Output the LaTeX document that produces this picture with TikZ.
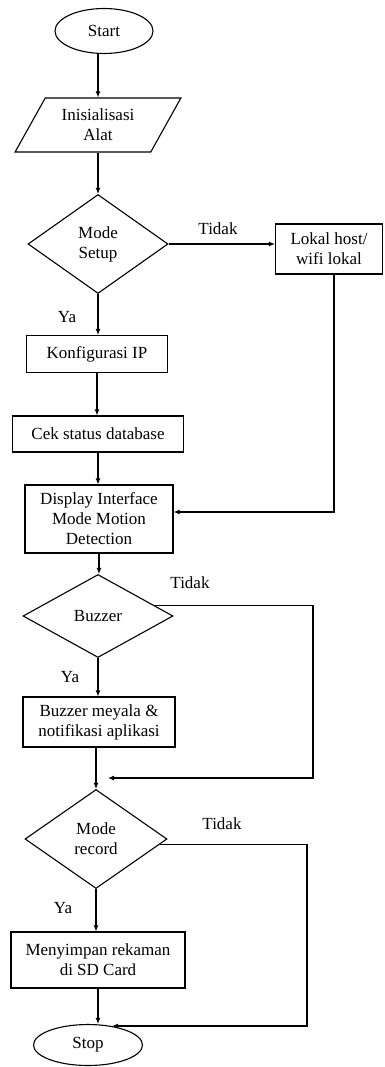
\documentclass[tikz,border=0pt]{standalone}
\usepackage{fontspec}
\setmainfont{Liberation Serif}
\usetikzlibrary{shapes.geometric,arrows.meta}
\begin{document}
\begin{tikzpicture}[x=1pt,y=-1pt,
  every node/.style={font=\fontsize{17}{20}\selectfont, align=center, inner sep=0pt},
  box/.style={draw, line width=1.1pt, rectangle},
  term/.style={draw, line width=1.1pt, ellipse},
  dec/.style={draw, line width=1.1pt, diamond, aspect=1.5},
  para/.style={draw, line width=1.1pt, trapezium, trapezium left angle=57, trapezium right angle=123, trapezium stretches=true},
  arr/.style={line width=1.1pt, -{Latex[length=6pt,width=5pt]}},
  ln/.style={line width=1.1pt}
]
\useasboundingbox (0,0) rectangle (384,1067);

\node[term, minimum width=98pt, minimum height=45pt] (start) at (104,31) {Start};
\node[para, minimum width=166pt, minimum height=54pt] (init) at (98,125) {Inisialisasi\\Alat};
\node[dec, minimum width=140pt, minimum height=99pt] (setup) at (98,244) {Mode\\Setup};
\node[box, minimum width=107pt, minimum height=50pt] (lokal) at (329,249) {Lokal host/\\wifi lokal};
\node[box, minimum width=141pt, minimum height=37pt] (konfig) at (97,354) {Konfigurasi IP};
\node[box, minimum width=171pt, minimum height=36pt] (cek) at (98,434) {Cek status database};
\node[box, minimum width=148pt, minimum height=68pt] (display) at (99,519) {Display Interface\\Mode Motion\\Detection};
\node[dec, minimum width=150pt, minimum height=83pt] (buzzer) at (98,616) {Buzzer};
\node[box, minimum width=152pt, minimum height=50pt] (buzzbox) at (99,722) {Buzzer meyala \&\\notifikasi aplikasi};
\node[dec, minimum width=142pt, minimum height=99pt] (record) at (96,839) {Mode\\record};
\node[box, minimum width=174pt, minimum height=56pt] (simpan) at (98,960) {Menyimpan rekaman\\di SD Card};
\node[term, minimum width=109pt, minimum height=41pt] (stop) at (88,1045) {Stop};

\node (t1) at (218,229) {Tidak};
\node (t2) at (190,583) {Tidak};
\node (t3) at (222,824) {Tidak};
\node (y1) at (67,317) {Ya};
\node (y2) at (70,677) {Ya};
\node (y3) at (63,908) {Ya};

\coordinate (lk) at (334,512);
\coordinate (bR) at (313,778);
\coordinate (bEnd) at (108,778);
\coordinate (rR) at (307,1026);
\coordinate (rEnd) at (112,1026);

\draw[arr] (start.south -| init.center) -- (init.center |- init.north);
\draw[arr] (init.center |- init.south) -- (setup.north);
\draw[arr] (setup.east) -- (setup.east -| lokal.west);
\draw[arr] (setup.south) -- (setup.south |- konfig.north);
\draw[arr] (konfig.south) -- (konfig.south |- cek.north);
\draw[arr] (cek.south) -- (cek.south |- display.north);
\draw[arr] (lokal.south -| lk) -- (lk) -- (lk -| display.east);
\draw[arr] (display.south) -- (display.south |- buzzer.north);
\draw[arr] (buzzer.south) -- (buzzer.south |- buzzbox.north);
\draw[arr] (buzzer.10) -| (bR) -- (bEnd);
\draw[arr] (buzzbox.south -| record.north) -- (record.north);
\draw[arr] (record.south) -- (record.south |- simpan.north);
\draw[arr] (record.-5) -| (rR) -- (rEnd);
\draw[arr] (simpan.south) -- (simpan.south |- stop.north);
\end{tikzpicture}
\end{document}
